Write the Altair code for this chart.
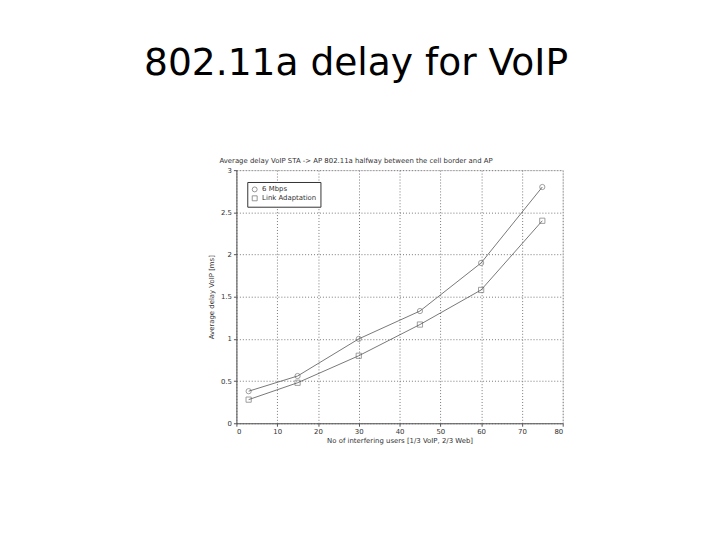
import altair as alt
import pandas as pd

users = [3, 15, 30, 45, 60, 75]
mbps6 = [0.38, 0.56, 1.0, 1.33, 1.9, 2.8]
link_adapt = [0.28, 0.48, 0.80, 1.17, 1.58, 2.4]
series_names = ["6 Mbps", "Link Adaptation"]

rows = []
for u, v in zip(users, mbps6):
    rows.append({"users": u, "delay": v, "series": series_names[0]})
for u, v in zip(users, link_adapt):
    rows.append({"users": u, "delay": v, "series": series_names[1]})
df = pd.DataFrame(rows)

font = "DejaVu Sans"

x = alt.X("users:Q", title="No of interfering users [1/3 VoIP, 2/3 Web]",
          scale=alt.Scale(domain=[0, 80], nice=False),
          axis=alt.Axis(values=list(range(0, 90, 10)), grid=True, gridDash=[1, 2],
                        gridColor="#777", tickColor="#555", domainColor="#555",
                        labelFontSize=7, titleFontSize=7, labelColor="#333",
                        titleColor="#333", titleFontWeight="normal", titlePadding=2,
                        labelFont=font, titleFont=font, tickSize=3, labelPadding=1,
                        format="d"))
y = alt.Y("delay:Q", title="Average delay VoIP [ms]",
          scale=alt.Scale(domain=[0, 3], nice=False),
          axis=alt.Axis(values=[0, 0.5, 1, 1.5, 2, 2.5, 3], grid=True, gridDash=[1, 2],
                        gridColor="#777", tickColor="#555", domainColor="#555",
                        labelFontSize=7, titleFontSize=7, labelColor="#333",
                        titleColor="#333", titleFontWeight="normal", titlePadding=6,
                        labelFont=font, titleFont=font, tickSize=3, labelPadding=2,
                        format="~g"))

shape = alt.Shape("series:N", scale=alt.Scale(domain=series_names, range=["circle", "square"]),
                  legend=alt.Legend(title=None, orient="none", legendX=11, legendY=12,
                                    fillColor="white", strokeColor="#333", padding=4,
                                    labelFontSize=7, labelFont=font, symbolSize=25,
                                    symbolFillColor="white", symbolStrokeColor="#444",
                                    symbolStrokeWidth=0.8,
                                    rowPadding=0, labelColor="#333"))

lines = alt.Chart(df).mark_line(strokeWidth=0.8, color="#555555").encode(
    x=x, y=y, detail="series:N")
points = alt.Chart(df).mark_point(size=28, filled=False, strokeWidth=0.8, color="#555555").encode(
    x=x, y=y, shape=shape)

chart = alt.layer(lines, points).properties(
    width=330, height=256,
    title=alt.TitleParams(
        text="802.11a delay for VoIP",
        subtitle="Average delay VoIP STA -> AP 802.11a halfway between the cell border and AP",
        fontSize=38, font=font, fontWeight="normal", color="black",
        subtitleFontSize=7, subtitleFont=font, subtitleColor="#333",
        subtitlePadding=75, anchor="middle", dx=-44, offset=2),
    autosize=alt.AutoSizeParams(type="none"),
    padding={"left": 231, "top": 161, "right": 151, "bottom": 107},
).configure_view(stroke="#555", strokeWidth=1).configure(background="white")

chart.save("out.html", embed_options={"renderer": "svg", "actions": False})
